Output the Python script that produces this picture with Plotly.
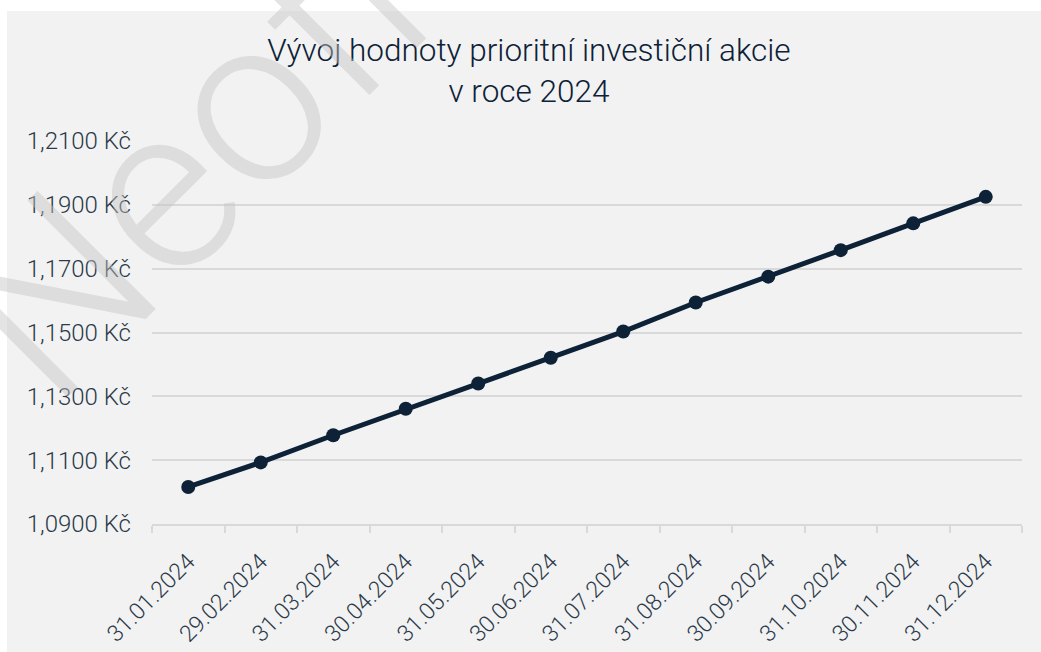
import plotly.graph_objects as go

dates = ["31.01.2024", "29.02.2024", "31.03.2024", "30.04.2024", "31.05.2024", "30.06.2024",
         "31.07.2024", "31.08.2024", "30.09.2024", "31.10.2024", "30.11.2024", "31.12.2024"]
values = [1.1016, 1.1093, 1.1178, 1.1261, 1.1340, 1.1421,
          1.1503, 1.1594, 1.1675, 1.1758, 1.1842, 1.1925]
y_range = [1.09, 1.21]
y_step = 0.02

W, H = 1041, 652
L, T = 152, 141
R = W - 1022
B = H - 524
pw, ph = W - L - R, H - T - B

def px(x):
    return (x - L) / pw

def py(y):
    return (H - B - y) / ph

navy = "#0d2137"
grid = "#d9d9d9"
txt = "#2b3a4a"

fig = go.Figure()
fig.add_trace(go.Scatter(
    x=dates, y=values, mode="lines+markers",
    line=dict(color=navy, width=5),
    marker=dict(color=navy, size=14),
    showlegend=False, hoverinfo="x+y",
))

fig.update_layout(
    width=W, height=H,
    margin=dict(l=L, r=R, t=T, b=B, autoexpand=False),
    paper_bgcolor="white",
    plot_bgcolor="rgba(0,0,0,0)",
    separators=", ",
    font=dict(family="Roboto", color=txt),
    title=dict(
        text="Vývoj hodnoty prioritní investiční akcie<br>v roce 2024",
        x=529 / W, xanchor="center", xref="container",
        y=1 - 61 / H, yanchor="top", yref="container",
        font=dict(family="Roboto", size=31.5, color=navy, weight=300),
    ),
    xaxis=dict(
        type="category",
        tickson="boundaries",
        ticks="outside", ticklen=7, tickcolor=grid, tickwidth=2,
        showline=True, linecolor=grid, linewidth=2,
        showgrid=False, zeroline=False,
        tickangle=-45, automargin=False,
        tickfont=dict(size=23, color=txt, weight=300),
        ticklabelstandoff=13,
        range=[-0.5, len(dates) - 0.5],
    ),
    yaxis=dict(
        range=y_range, dtick=y_step, tick0=y_range[0],
        tickformat=".4f", ticksuffix=" Kč",
        showgrid=True, gridcolor=grid, gridwidth=2,
        zeroline=False, showline=False, automargin=False,
        ticks="", ticklabelstandoff=20,
        tickfont=dict(size=24, color=txt, weight=300),
    ),
    shapes=[dict(
        type="rect", xref="paper", yref="paper", layer="below",
        x0=px(7), x1=px(W + 5), y0=py(H + 5), y1=py(11),
        fillcolor="#f2f2f2", line=dict(width=0),
    )],
    annotations=[dict(
        text="Neoflow", xref="paper", yref="paper",
        x=px(298), y=py(52), xanchor="center", yanchor="middle",
        textangle=-45, showarrow=False,
        font=dict(family="Roboto", size=235, color="rgba(195,195,195,0.45)", weight=300),
    )],
)

fig.write_html(
    "out.html",
    config={"displayModeBar": False},
    post_script="document.body.style.margin='0';document.body.style.overflow='hidden';",
)
